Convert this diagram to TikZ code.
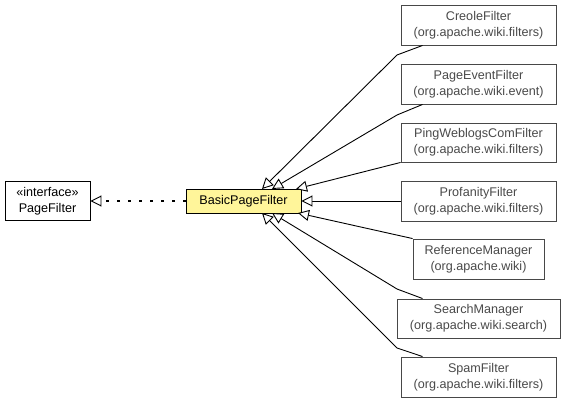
\documentclass[tikz,border=0pt]{standalone}
\usepackage{fontspec}
\setmainfont{Liberation Sans}
\usetikzlibrary{arrows.meta}
\definecolor{boxgray}{HTML}{484848}
\definecolor{txtgray}{HTML}{4A4A4A}
\definecolor{hl}{HTML}{FFF59A}
\begin{document}
\begin{tikzpicture}[x=1pt,y=-1pt,
  cls/.style={draw=boxgray,line width=0.9pt,fill=white,text=txtgray,align=center,inner sep=0pt,font=\fontsize{12.6}{16}\selectfont},
  mainbox/.style={draw=black,line width=0.9pt,align=center,inner sep=0pt,font=\fontsize{12.6}{16}\selectfont},
  gen/.style={line width=0.9pt,-{Triangle[length=11pt,width=11pt,fill=white]}},
  real/.style={line width=2.2pt,dash pattern=on 2.2pt off 8.8pt,-{Triangle[length=11pt,width=11pt,fill=white,line width=0.9pt]}}]
\useasboundingbox (0,0) rectangle (565,403);
\node[mainbox,fill=white,minimum width=85pt,minimum height=39pt] (pf) at (47.5,201) {«interface»\\PageFilter};
\node[mainbox,fill=hl,minimum width=115pt,minimum height=24pt] (bpf) at (243.5,201) {BasicPageFilter};
\node[cls,minimum width=155pt,minimum height=40pt] (creole) at (478.5,25) {CreoleFilter\\(org.apache.wiki.filters)};
\node[cls,minimum width=155pt,minimum height=40pt] (pev) at (478.5,84) {PageEventFilter\\(org.apache.wiki.event)};
\node[cls,minimum width=155pt,minimum height=39pt] (ping) at (478.5,142.5) {PingWeblogsComFilter\\(org.apache.wiki.filters)};
\node[cls,minimum width=155pt,minimum height=40pt] (prof) at (478.5,201) {ProfanityFilter\\(org.apache.wiki.filters)};
\node[cls,minimum width=131pt,minimum height=40pt] (ref) at (478.5,259) {ReferenceManager\\(org.apache.wiki)};
\node[cls,minimum width=163pt,minimum height=39pt] (search) at (478.5,318.5) {SearchManager\\(org.apache.wiki.search)};
\node[cls,minimum width=155pt,minimum height=40pt] (spam) at (478.5,377) {SpamFilter\\(org.apache.wiki.filters)};
\coordinate (tc) at (262,189);
\coordinate (tpe) at (272,189);
\coordinate (tping) at (296,189);
\coordinate (tref) at (298,213);
\coordinate (tsearch) at (272,213);
\coordinate (tspam) at (262,213);
\coordinate (bc) at (397,55);
\coordinate (bpe) at (397,115);
\coordinate (bs) at (397,289);
\coordinate (bsp) at (397,348);
\draw[gen] (creole.south west)++(22,0) -- (bc) -- (tc);
\draw[gen] (pev.south west)++(22,0) -- (bpe) -- (tpe);
\draw[gen] (ping.south west) -- (tping);
\draw[gen] (prof.west) -- (bpf.east);
\draw[gen] (ref.north west) -- (tref);
\draw[gen] (search.north west)++(26,0) -- (bs) -- (tsearch);
\draw[gen] (spam.north west)++(22,0) -- (bsp) -- (tspam);
\draw[real] (bpf.west) -- (pf.east);
\end{tikzpicture}
\end{document}
